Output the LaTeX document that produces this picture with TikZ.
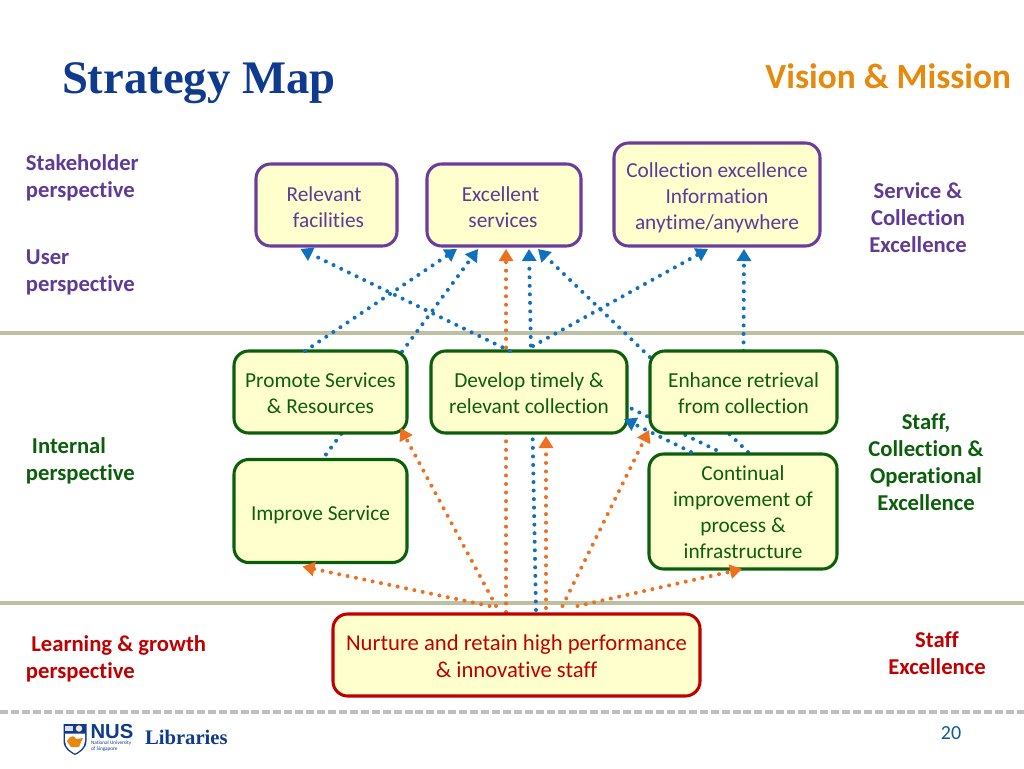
\documentclass[tikz,border=0pt]{standalone}
\usepackage{fontspec}
\setmainfont[Ligatures=NoCommon]{Carlito}
\newfontfamily\titlefont{Liberation Serif}
\newfontfamily\logofont{Liberation Sans}
\usetikzlibrary{arrows.meta,calc}
\definecolor{boxfill}{HTML}{FFFFCE}
\definecolor{bandc}{HTML}{BDBFA0}
\definecolor{dgreen}{HTML}{0B5F0B}
\definecolor{purp}{HTML}{6B3C9B}
\definecolor{purptext}{HTML}{5F3A96}
\definecolor{dred}{HTML}{C00000}
\definecolor{navy}{HTML}{0F3A8E}
\definecolor{linkblue}{HTML}{0F70BE}
\definecolor{linkorange}{HTML}{EE6F1E}
\definecolor{headorange}{HTML}{E58A0C}
\pgfdeclarelayer{bg}
\pgfsetlayers{bg,main}
\def\pxu{.75pt}
\newcommand{\tp}[1]{\rule{0pt}{#1pt}}
\tikzset{
  x=.75pt,y=-.75pt,
  every node/.style={inner sep=0pt,outer sep=0pt},
  box/.style={draw,fill=boxfill,line width=2.3pt,rounded corners=11pt,align=center,
    font=\fontsize{16}{19.4}\selectfont},
  purplebox/.style={box,draw=purp,text=purptext},
  greenbox/.style={box,draw=dgreen,text=dgreen},
  redbox/.style={box,draw=dred,text=dred,font=\fontsize{17}{20.25}\selectfont},
  side/.style={font=\fontsize{17}{20.25}\selectfont\bfseries},
  link/.style={line width=3pt,line cap=round,dash pattern=on 0pt off 6.4pt,
    -{Triangle[length=9pt,width=10.5pt]}},
  plainlink/.style={line width=3pt,line cap=round,dash pattern=on 0pt off 6.4pt},
  band/.style={bandc,line width=3pt},
}
\begin{document}
\begin{tikzpicture}
\useasboundingbox (0,0) rectangle (1024,768);

% boxes
\node[purplebox,minimum width=141*\pxu,minimum height=82*\pxu] (relevant) at (326.5,205) {\tp{13.9}\hspace*{-3.75pt}Relevant\\\hspace*{3pt}facilities};
\node[purplebox,minimum width=154*\pxu,minimum height=82*\pxu] (excellent) at (504,205) {\tp{13.9}\hspace*{-5.25pt}Excellent\\\hspace*{-1.5pt}services};
\node[purplebox,minimum width=206*\pxu,minimum height=103*\pxu] (collection) at (717,194.5) {\tp{16.2}Collection excellence\\Information\\anytime/anywhere};
\node[greenbox,minimum width=173*\pxu,minimum height=82*\pxu] (promote) at (320.5,392) {\tp{13.2}Promote Services\\\& Resources};
\node[greenbox,minimum width=196*\pxu,minimum height=82*\pxu] (develop) at (529,392) {\tp{13.2}Develop timely \&\\relevant collection};
\node[greenbox,minimum width=187*\pxu,minimum height=82*\pxu] (enhance) at (743.5,392) {\tp{13.2}Enhance retrieval\\from collection};
\node[greenbox,minimum width=173*\pxu,minimum height=103*\pxu] (improve) at (320.5,511) {\tp{16.2}Improve Service};
\node[greenbox,minimum width=188*\pxu,minimum height=115*\pxu] (continual) at (743,511.5) {\tp{12.5}Continual\\improvement of\\process \&\\infrastructure};
\node[redbox,minimum width=367*\pxu,minimum height=82*\pxu] (nurture) at (516.5,655) {\tp{14}Nurture and retain high performance\\\& innovative staff};

% titles and side labels
\node[anchor=base west,text=navy,font=\fontsize{35}{40}\selectfont\titlefont\bfseries] (title) at (62,93) {Strategy Map};
\node[anchor=base east,text=headorange,font=\fontsize{26.5}{28}\selectfont\bfseries] (vision) at (1011,88) {Vision \& Mission};

\node[side,text=purptext,anchor=west,align=left] (stake) at (26,177.5) {Stakeholder\\perspective};
\node[side,text=purptext,anchor=west,align=left] (user) at (26,272) {User\\perspective};
\node[side,text=dgreen,anchor=west,align=left] (internal) at (26,460.5) {\hspace*{4.5pt}Internal\\perspective};
\node[side,text=dred,anchor=west,align=left] (learning) at (26,659) {\hspace*{4pt}Learning \& growth\\perspective};
\node[side,text=purptext,align=center] (service) at (918,217.5) {Service \&\\Collection\\Excellence};
\node[side,text=dgreen,align=center] (staffop) at (926,462.5) {Staff,\\Collection \&\\Operational\\Excellence};
\node[side,text=dred,align=center] (staffex) at (937,653.5) {Staff\\Excellence};

% footer
\node[anchor=base west,text=navy,font=\fontsize{15.5}{18}\selectfont\titlefont\bfseries] (libraries) at (145,744) {Libraries};
\node[text=linkblue!80!black,font=\fontsize{15}{18}\selectfont] (pagenum) at (951,733) {20};
\node[anchor=base west,text=navy,font=\fontsize{15.2}{18}\selectfont\logofont\bfseries] (nus) at (90.5,738) {NUS};
\node[anchor=west,text=navy,align=left,font=\fontsize{3.9}{4.6}\selectfont] (nusname) at (91,746.5) {National University\\of Singapore};

% shield
\fill[navy] (63.5,724) -- (86.5,724) -- (86.5,741) .. controls (86.5,749) and (79,753) .. (75,755) .. controls (71,753) and (63.5,749) .. (63.5,741) -- cycle;
\fill[white] (65,733.5) -- (85,733.5) -- (85,741) .. controls (85,748) and (78,752) .. (75,753.5) .. controls (72,752) and (65,748) .. (65,741) -- cycle;
\fill[headorange] (67,741) .. controls (70,735) and (75,735) .. (76,739) -- (83,738) -- (81,742) -- (79,747) -- (71,747) .. controls (70,745) and (68,744) .. (67,741) -- cycle;
\fill[white!85!navy] (65,725.5) rectangle (73,731);
\fill[white!80!headorange] (79,728.5) circle (3.2);

\begin{pgfonlayer}{bg}
  \fill[white] (0,0) rectangle (1024,768);
  \draw[band] (0,333) -- (1024,333);
  \draw[band] (0,603) -- (1024,603);
  \draw[black!25,line width=2.4pt,dash pattern=on 6pt off 2.2pt] (0,712) -- (1024,712);
  % links passing behind boxes
  \draw[link,linkorange] ([xshift=-10.5*\pxu,yshift=2*\pxu]nurture.north) -- ([xshift=2*\pxu,yshift=-3*\pxu]excellent.south);
  \draw[link,linkblue] ([xshift=5.5*\pxu,yshift=5*\pxu]improve.north) -- ([xshift=-26*\pxu,yshift=-3*\pxu]excellent.south);
  \draw[link,linkblue] ([xshift=19.5*\pxu,yshift=4*\pxu]nurture.north) -- ([xshift=25*\pxu,yshift=-3*\pxu]excellent.south);
  \draw[link,linkblue] ([xshift=5*\pxu,yshift=2*\pxu]continual.north) -- ([xshift=34*\pxu,yshift=-3*\pxu]excellent.south);
  \draw[plainlink,linkblue] ([xshift=-27*\pxu,yshift=4*\pxu]continual.north) -- ([xshift=-7*\pxu,yshift=-11*\pxu]develop.east);
  \draw[link,linkblue] (enhance.north) -- ([xshift=27*\pxu,yshift=-3*\pxu]collection.south);
\end{pgfonlayer}

% links ending on the boxes
\draw[link,linkorange] ([xshift=-27*\pxu,yshift=8*\pxu]nurture.north) -- ([xshift=-18*\pxu,yshift=-4*\pxu]improve.south);
\draw[link,linkorange] ([xshift=-20.5*\pxu,yshift=8*\pxu]nurture.north) -- ([xshift=80*\pxu,yshift=5*\pxu]promote.south);
\draw[link,linkorange] ([xshift=29.5*\pxu,yshift=6*\pxu]nurture.north) -- ([xshift=17*\pxu,yshift=-3*\pxu]develop.south);
\draw[link,linkorange] ([xshift=46*\pxu,yshift=8*\pxu]nurture.north) -- ([xshift=-1*\pxu,yshift=3*\pxu]enhance.south west);
\draw[link,linkorange] ([xshift=61*\pxu,yshift=8*\pxu]nurture.north) -- ([xshift=-1*\pxu]continual.south);
\draw[link,linkblue] ([xshift=-15.5*\pxu]promote.north) -- ([xshift=-47*\pxu,yshift=-3*\pxu]excellent.south);
\draw[link,linkblue] ([xshift=-19*\pxu]develop.north) -- ([xshift=-26*\pxu,yshift=-3*\pxu]relevant.south);
\draw[link,linkblue] ([xshift=4*\pxu,yshift=5*\pxu]develop.north) -- ([xshift=-9*\pxu,yshift=-3*\pxu]collection.south);
\draw[link,linkblue] ([xshift=-52*\pxu,yshift=2*\pxu]continual.north) -- ([xshift=-3*\pxu,yshift=-27*\pxu]develop.east);
\end{tikzpicture}
\end{document}
